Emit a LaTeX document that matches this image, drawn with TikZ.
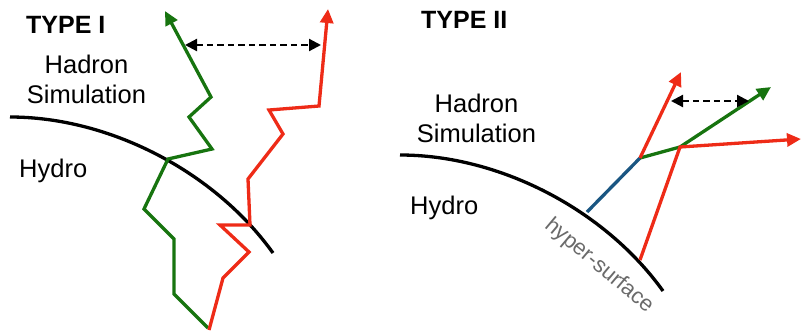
\documentclass[tikz,border=0pt]{standalone}
\usepackage{fontspec}
\setmainfont{Liberation Sans}
\usetikzlibrary{arrows.meta}
\definecolor{pred}{HTML}{EE2B17}
\definecolor{pgrn}{HTML}{17740F}
\definecolor{pblu}{HTML}{1A5682}
\definecolor{pgry}{HTML}{6A6A6A}
\begin{document}
\begin{tikzpicture}[x=1pt,y=-1pt,
  trk/.style={line width=3.3pt},
  tip/.style={-{Triangle[length=14pt,width=13pt]}},
  gap/.style={{Triangle[length=12pt,width=12pt]}-{Triangle[length=12pt,width=12pt]}, line width=2.2pt, dash pattern=on 6.5pt off 4pt},
  lbl/.style={font=\fontsize{25.5}{30}\selectfont, inner sep=0pt, anchor=base},
  ttl/.style={font=\fontsize{25}{30}\selectfont\bfseries, inner sep=0pt, anchor=base west},
]
\useasboundingbox (0,0) rectangle (801,333);
% texts
\node[ttl] (t1) at (26,33) {TYPE I};
\node[ttl] (t2) at (421,28) {TYPE II};
\node[lbl] (h1) at (86.5,73) {Hadron};
\node[lbl] (s1) at (86.5,103) {Simulation};
\node[lbl,anchor=base west] (y1) at (19,177) {Hydro};
\node[lbl] (h2) at (476.5,112) {Hadron};
\node[lbl] (s2) at (476.5,142) {Simulation};
\node[lbl,anchor=base west] (y2) at (410,214) {Hydro};
\node[rotate=-40, text=pgry, font=\fontsize{22}{26}\selectfont, inner sep=0pt] (hs) at (599,266) {hyper-surface};
% surfaces
\coordinate (a1) at (10,117); \coordinate (a2) at (273,253);
\draw[trk,black] (a1) .. controls (110,117) and (215,172) .. (a2);
\coordinate (b1) at (400,155); \coordinate (b2) at (663,291);
\draw[trk,black] (b1) .. controls (500,155) and (605,210) .. (b2);
% type I green
\coordinate (g1) at (208,328); \coordinate (g2) at (174,294);
\coordinate (g3) at (174,239); \coordinate (g4) at (144,209);
\coordinate (g5) at (168,159); \coordinate (g6) at (212,149);
\coordinate (g7) at (189,117); \coordinate (g8) at (211,97);
\coordinate (g9) at (165,11);
\draw[trk,pgrn,tip] (g1) -- (g2) -- (g3) -- (g4) -- (g5) -- (g6) -- (g7) -- (g8) -- (g9);
% type I red
\coordinate (r1) at (209,330); \coordinate (r2) at (223,278);
\coordinate (r3) at (249,252); \coordinate (r4) at (220,225);
\coordinate (r5) at (250,225); \coordinate (r6) at (248,179);
\coordinate (r7) at (283,134); \coordinate (r8) at (269,110);
\coordinate (r9) at (319,106); \coordinate (r10) at (328,9);
\draw[trk,pred,tip] (r1) -- (r2) -- (r3) -- (r4) -- (r5) -- (r6) -- (r7) -- (r8) -- (r9) -- (r10);
% gap arrow I
\coordinate (d1) at (185,45); \coordinate (d2) at (321,45);
\draw[gap] (d1) -- (d2);
% type II
\coordinate (p0) at (587,212); \coordinate (p1) at (640,158);
\coordinate (p2) at (681,72); \coordinate (p3) at (680,147);
\coordinate (p4) at (771,87); \coordinate (q0) at (640,260);
\coordinate (q1) at (801,139);
\draw[trk,pblu] (p0) -- (p1);
\draw[trk,pgrn,tip] (p1) -- (p3) -- (p4);
\draw[trk,pred,tip] (p1) -- (p2);
\draw[trk,pred,tip] (q0) -- (p3) -- (q1);
\coordinate (e1) at (671,101); \coordinate (e2) at (749,101);
\draw[gap] (e1) -- (e2);
\end{tikzpicture}
\end{document}
